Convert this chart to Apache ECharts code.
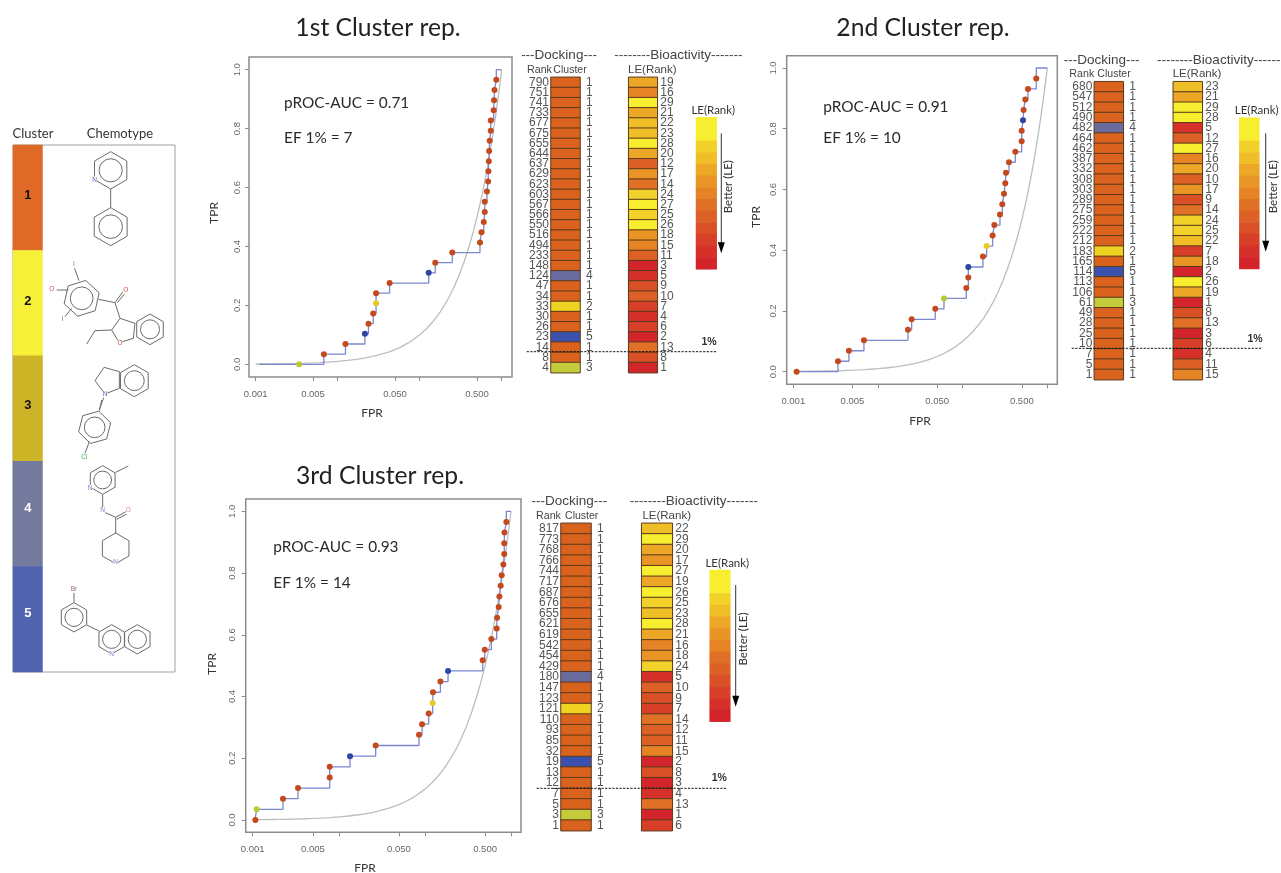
<!DOCTYPE html>
<html><head><meta charset="utf-8"><style>html,body{margin:0;padding:0;background:#fff}#c{width:1281px;height:873px}</style>
<script src="https://cdn.jsdelivr.net/npm/echarts@6/dist/echarts.min.js"></script></head><body><div id="c"></div>
<script>
// ---- data, tables listed top-down as printed; FPR listed from the lowest rank up ----
const rank1=[790,751,741,733,677,675,655,644,637,629,623,603,567,566,550,516,494,233,148,124,47,34,33,30,26,23,14,8,4];
const cluster1=[1,1,1,1,1,1,1,1,1,1,1,1,1,1,1,1,1,1,1,4,1,1,2,1,1,5,1,1,3];
const le1=[19,16,29,21,22,23,28,20,12,17,14,24,27,25,26,18,15,11,3,5,9,10,7,4,6,2,13,8,1];
const fpr1=[.00339,.00678,.01243,.02147,.02373,.02712,.02938,.02938,.04294,.1288,.1548,.2497,.5435,.5672,.6045,.6215,.6215,.661,.6825,.688,.696,.7028,.714,.7356,.7367,.7989,.8068,.817,.8599];
const rank2=[680,547,512,490,482,464,462,387,332,308,303,289,275,259,222,212,183,165,114,113,106,61,49,28,25,10,7,5,1];
const cluster2=[1,1,1,1,4,1,1,1,1,1,1,1,1,1,1,1,2,1,5,1,1,3,1,1,1,1,1,1,1];
const le2=[23,21,29,28,5,12,27,16,20,10,17,9,14,24,25,22,7,18,2,26,19,1,8,13,3,6,4,11,15];
const fpr2=[.001095,.00337,.00454,.00683,.0226,.025,.0475,.0602,.1105,.1167,.1167,.1738,.192,.226,.2366,.276,.294,.308,.319,.325,.3526,.419,.498,.498,.516,.525,.55,.591,.741];
const rank3=[817,773,768,766,744,717,687,676,655,621,619,542,454,429,180,147,123,121,110,93,85,32,19,13,12,7,5,3,1];
const cluster3=[1,1,1,1,1,1,1,1,1,1,1,1,1,1,4,1,1,2,1,1,1,1,5,1,1,1,1,3,1];
const le3=[22,29,20,17,27,19,26,25,23,28,21,16,18,24,5,10,9,7,14,12,11,15,2,8,3,4,13,1,6];
const fpr3=[.001074,.001113,.00225,.00336,.00784,.00784,.0135,.0268,.0855,.0927,.1107,.123,.1242,.1514,.1857,.469,.4955,.5916,.682,.689,.72,.733,.759,.78,.815,.835,.835,.84,.883];
const startFpr=[.00111,null,.00106];
const diagonal=[.001,.0013,.0017,.002,.0025,.003,.004,.005,.006,.007,.008,.01,.013,.017,.02,.025,.03,.04,.05,.06,.07,.08,.1,.12,.14,.16,.18,.2,.23,.26,.3,.35,.4,.45,.5,.55,.6,.65,.7,.75,.8,.85,.9,.95,1];
const xTicks=[.001,.005,.01,.05,.1,.5,1];
const xLabels=[.001,.005,.05,.5];
const yTicks=[0,.2,.4,.6,.8,1];
const cellColor={1:'#d9621f',2:'#eed320',3:'#c5cc3c',4:'#6a6b9f',5:'#3a52ad'};
const dotColor={1:'#c4491d',2:'#e6cc20',3:'#b9c932',4:'#2f45a6',5:'#2f45a6'};
const leBands=['#f6ee2f','#f6ee2f','#f2d22a','#f0bf28','#eca726','#e89525','#e58325','#e07025','#dd6026','#d95027','#d73f28','#d5302a','#d2242a'];
const sideClusters=['1','2','3','4','5'];
const sideColors=['#df6a28','#f7f038','#ccb426','#747a9e','#4f63ae'];
const sideLabelColors=['#111','#111','#111','#fff','#fff'];
const sideLabelShift=[-2,-2,-3.5,-5.5,-6.3];
const titles=['1st Cluster rep.','2nd Cluster rep.','3rd Cluster rep.'];
const aucTexts=['pROC-AUC = 0.71','pROC-AUC = 0.91','pROC-AUC = 0.93'];
const efTexts=['EF 1% = 7','EF 1% = 10','EF 1% = 14'];

// ---- layout ----
const L='"Liberation Sans",Arial,sans-serif', H='Lato,"Open Sans",sans-serif';
const panels=[
 {box:[249,57,512,377],t001:255.7,t1:501.7,y0:364.3,y1:69.7,fprY:413,fprX:372,tprX:214,tprY:213,lab:12,xm:16,
  title:[378,28],auc:[284,102.7],ef:[284,138.3],fpr:fpr1,rank:rank1,cluster:cluster1,le:le1,
  dock:[551,77.3,29,295.4],leCol:[628.7,77.3,28.6,295.4],head:[559,55.7,678.3,70],rankX:[527,551,570],leHX:652.3,
  bioText:'--------Bioactivity-------',leg:[696,117.3,20.7,152],legT:[713.3,110.7],arrow:[721.3,133.3,253.3],better:[728.3,186.7],dash:[526.7,716.7,351.7],pct:[709,342]},
 {box:[786.7,55.7,1057.3,384.3],t001:793.3,t1:1047.3,y0:371.7,y1:68,fprY:421,fprX:920,tprX:756,tprY:217,lab:13.7,xm:16,
  title:[923,28],auc:[823.3,106.7],ef:[823.3,137.7],fpr:fpr2,rank:rank2,cluster:cluster2,le:le2,
  dock:[1094.3,81.7,29,298],leCol:[1173.3,81.7,29,298],head:[1101.7,60.7,1221,74.3],rankX:[1069.3,1096,1114],leHX:1197,
  bioText:'--------Bioactivity-------',leg:[1239.3,117.7,20,151.3],legT:[1256.7,110.7],arrow:[1265.7,133.3,251.7],better:[1273,186.7],dash:[1071.7,1261.7,348.3],pct:[1255,339]},
 {box:[245.7,499,521,832.3],t001:252.7,t1:511,y0:820,y1:511.3,fprY:868,fprX:365,tprX:212,tprY:664,lab:13.4,xm:16,
  title:[380,476],auc:[273.3,547.3],ef:[273.3,583.3],fpr:fpr3,rank:rank3,cluster:cluster3,le:le3,
  dock:[561,523.3,30,307.4],leCol:[641.7,523.3,30.6,307.4],head:[569.3,501,693.8,515.7],rankX:[536,564.5,581.7],leHX:666.7,
  bioText:'--------Bioactivity-------',leg:[709.7,570,20.6,151.7],legT:[727.3,563.3],arrow:[735.7,585,706.7],better:[743.3,639],dash:[536.7,726.7,788.3],pct:[719.3,778.3]}
];
const grids=[],xAxes=[],yAxes=[],series=[],graphic=[];
const lg=v=>Math.log10(v);
function txt(x,y,s,size,o){o=o||{};graphic.push({type:'text',x,y,rotation:o.rot||0,silent:true,z:50,style:{text:s,fontSize:size,fontFamily:o.f||L,fontWeight:o.w||'normal',fill:o.c||'#444',align:o.a||'center',verticalAlign:'middle'}});}
function addGrid(l,t,w,h,show){grids.push({left:l,top:t,width:w,height:h,outerBoundsMode:'none',show:!!show,borderColor:'#8c8c8c',borderWidth:1.5});return grids.length-1;}
function hiddenX(g){xAxes.push({gridIndex:g,type:'category',data:['c'],show:false});return xAxes.length-1;}
function catY(g,labels,pos,margin,size){yAxes.push({gridIndex:g,type:'category',data:labels.map(String),inverse:true,position:pos,axisLine:{show:false},axisTick:{show:false},splitLine:{show:false},
  axisLabel:{show:!!size,interval:0,margin:margin,fontSize:size||1,fontFamily:L,color:'#555',hideOverlap:false}});return yAxes.length-1;}
function cellSeries(xi,yi,colors,border){series.push({type:'heatmap',coordinateSystem:'cartesian2d',xAxisIndex:xi,yAxisIndex:yi,silent:true,
  data:colors.map((c,i)=>({value:[0,i,1],itemStyle:{color:c,borderColor:border||c,borderWidth:border?1:0}}))});}
const leColor=r=>leBands[12-Math.floor((r-1)*13/29)];

panels.forEach((p,pi)=>{
 const [bl,bt,br,bb]=p.box;
 const dec=(p.t1-p.t001)/3, ys=p.y0-p.y1;
 const g=addGrid(bl,bt,br-bl,bb-bt,true);
 xAxes.push({gridIndex:g,type:'value',min:-3-(p.t001-bl)/dec,max:(br-p.t1)/dec,splitLine:{show:false},axisLine:{show:false,onZero:false},
   axisTick:{show:true,length:4,lineStyle:{color:'#8c8c8c'},customValues:xTicks.map(lg)},
   axisLabel:{customValues:xLabels.map(lg),margin:p.xm-4,fontSize:9.5,fontFamily:L,color:'#666',formatter:v=>Math.pow(10,v).toFixed(3)}});
 const xi=xAxes.length-1;
 yAxes.push({gridIndex:g,type:'value',min:-(bb-p.y0)/ys,max:1+(p.y1-bt)/ys,splitLine:{show:false},axisLine:{show:false,onZero:false},
   axisTick:{show:true,length:4,lineStyle:{color:'#8c8c8c'},customValues:yTicks},
   axisLabel:{customValues:yTicks,rotate:90,margin:p.lab-5,fontSize:9.5,fontFamily:L,color:'#666',formatter:v=>v.toFixed(1)}});
 const yi=yAxes.length-1;
 const n=p.fpr.length;
 const pts=p.fpr.map((f,i)=>[lg(f),i/n]);
 const clustersUp=p.cluster.slice().reverse();
 series.push({type:'line',xAxisIndex:xi,yAxisIndex:yi,silent:true,showSymbol:false,symbol:'none',z:2,data:diagonal.map(v=>[lg(v),v]),lineStyle:{color:'#bdbdbd',width:1.3}});
 const lead=startFpr[pi]?[[lg(startFpr[pi]),0]]:[];
 series.push({type:'line',step:'end',xAxisIndex:xi,yAxisIndex:yi,silent:true,showSymbol:false,symbol:'none',z:3,
   data:lead.concat(pts,[[pts[n-1][0],1],[0,1]]),lineStyle:{color:'#7c88cf',width:1.3}});
 series.push({type:'scatter',xAxisIndex:xi,yAxisIndex:yi,silent:true,symbolSize:6,z:4,
   data:pts.map((q,i)=>({value:q,itemStyle:{color:dotColor[clustersUp[i]],opacity:1}}))});
 // docking column
 const d=addGrid(...p.dock);
 const dx=hiddenX(d);
 const dy=catY(d,p.rank,'left',2,12);
 catY(d,p.cluster,'right',6,12);
 cellSeries(dx,dy,p.cluster.map(c=>cellColor[c]),'#5b3a1c');
 // LE column
 const e=addGrid(...p.leCol);
 const ex=hiddenX(e);
 const ey=catY(e,p.le,'right',3,12);
 yAxes[ey].axisLabel.align='left';
 cellSeries(ex,ey,p.le.map(leColor),'#5b3a1c');
 // LE colour key
 const k=addGrid(...p.leg);
 const kx=hiddenX(k);
 const ky=catY(k,leBands,'left',0,0);
 yAxes[ky].axisLabel.show=false;
 cellSeries(kx,ky,leBands,null);
 // text
 txt(p.title[0],p.title[1],titles[pi],24.7,{f:H,c:'#222'});
 txt(p.auc[0],p.auc[1],aucTexts[pi],15.4,{f:H,c:'#2a2a2a',a:'left'});
 txt(p.ef[0],p.ef[1],efTexts[pi],15.4,{f:H,c:'#2a2a2a',a:'left'});
 txt(p.fprX,p.fprY,'FPR',12,{f:H,c:'#333'});
 txt(p.tprX,p.tprY,'TPR',12,{f:H,c:'#333',rot:Math.PI/2});
 txt(p.head[0],p.head[1],'---Docking---',13.5);
 txt(p.head[2],p.head[1],p.bioText,13.5);
 const hy=p.head[3];
 txt(p.rankX[0],hy,'Rank',10.7,{a:'left'});
 txt(p.rankX[2],hy,'Cluster',10.5);
 txt(p.leHX,hy,'LE(Rank)',11.5);
 txt(p.legT[0],p.legT[1],'LE(Rank)',11.5,{f:H,c:'#333'});
 txt(p.better[0],p.better[1],'Better (LE)',11.5,{f:H,c:'#333',rot:Math.PI/2});
 txt(p.pct[0],p.pct[1],'1%',10.5,{w:'bold',c:'#333'});
 const [ax,a0,a1]=p.arrow;
 graphic.push({type:'line',silent:true,z:40,shape:{x1:ax,y1:a0,x2:ax,y2:a1-8},style:{stroke:'#333',lineWidth:1}});
 graphic.push({type:'polygon',silent:true,z:40,shape:{points:[[ax-3.5,a1-11],[ax+3.5,a1-11],[ax,a1]]},style:{fill:'#000'}});
 graphic.push({type:'line',silent:true,z:41,shape:{x1:p.dash[0],y1:p.dash[2],x2:p.dash[1],y2:p.dash[2]},style:{stroke:'#111',lineWidth:1,lineDash:[2.2,1.4]}});
});

// ---- left key ----
addGrid(13,145,162,527,true);
grids[grids.length-1].borderColor='#a0a0a0';grids[grids.length-1].borderWidth=1;
xAxes.push({gridIndex:grids.length-1,type:'value',show:false});
yAxes.push({gridIndex:grids.length-1,type:'value',show:false});
const sg=addGrid(13,145,29.5,527);
const sx=hiddenX(sg), sy=catY(sg,sideClusters,'left',0,0);
yAxes[sy].axisLabel.show=false;
series.push({type:'heatmap',coordinateSystem:'cartesian2d',xAxisIndex:sx,yAxisIndex:sy,silent:true,
  data:sideColors.map((c,i)=>({value:[0,i,1],itemStyle:{color:c},label:{show:true,offset:[0,sideLabelShift[i]],formatter:sideClusters[i],fontSize:13,fontWeight:'bold',fontFamily:L,color:sideLabelColors[i]}}))});
txt(33,134,'Cluster',13,{f:H,c:'#333'});
txt(120,134,'Chemotype',13,{f:H,c:'#333'});

// ---- chemotype sketches (zoom coordinates /3) ----
const STK='#6b6b6b';
function P(x,y,oy){return [x/3,y/3+oy];}
function bond(a,b,oy){graphic.push({type:'line',silent:true,shape:{x1:a[0]/3,y1:a[1]/3+oy,x2:b[0]/3,y2:b[1]/3+oy},style:{stroke:STK,lineWidth:1}});}
function ring(cx,cy,r,oy,rot,inner,n){n=n||6;rot=rot||0;const pts=[];for(let i=0;i<n;i++){const a=-Math.PI/2+rot+i*2*Math.PI/n;pts.push([(cx+r*Math.cos(a))/3,(cy+r*Math.sin(a))/3+oy]);}
 graphic.push({type:'polygon',silent:true,shape:{points:pts},style:{fill:'none',stroke:STK,lineWidth:1}});
 if(inner!==false)graphic.push({type:'circle',silent:true,shape:{cx:cx/3,cy:cy/3+oy,r:r*0.62/3},style:{fill:'none',stroke:STK,lineWidth:1}});}
function poly(pts,oy){graphic.push({type:'polygon',silent:true,shape:{points:pts.map(q=>P(q[0],q[1],oy))},style:{fill:'none',stroke:STK,lineWidth:1}});}
function atom(x,y,s,c,oy){txt(x/3,y/3+oy,s,6.5,{c:c});graphic[graphic.length-1].style.backgroundColor='#fff';}
const o1=120,o2=400;
ring(332,151,56,o1);ring(332,320,57,o1);bond([332,207],[332,263],o1);atom(284,180,'N','#5560b0',o1);
ring(245,535,55,o1,0.22);bond([237,482],[222,440],o1);bond([170,510],[205,510],o1);bond([195,590],[215,565],o1);
atom(222,434,'I','#7a70b0',o1);atom(155,507,'O','#d0504c',o1);atom(187,597,'I','#7a70b0',o1);
bond([296,538],[345,548],o1);bond([345,548],[368,516],o1);bond([352,548],[375,520],o1);atom(377,511,'O','#d0504c',o1);
bond([345,548],[360,595],o1);poly([[360,595],[335,630],[358,668],[400,655],[405,610]],o1);ring(450,628,46,o1);
bond([335,630],[285,632],o1);bond([285,632],[260,672],o1);atom(360,671,'O','#d0504c',o1);
poly([[312,742],[285,782],[315,822],[358,805],[358,755]],o1);ring(403,782,48,o1);atom(315,822,'N','#5560b0',o1);bond([312,830],[298,870],o1);
bond([305,0],[298,32],o2);ring(284,82,50,o2,0.25);bond([268,125],[255,160],o2);atom(253,173,'Cl','#45b050',o2);
ring(308,240,43,o2,0,true);bond([347,217],[385,198],o2);atom(270,265,'N','#7a80c8',o2);
bond([308,283],[308,325],o2);atom(308,332,'N','#7a80c8',o2);bond([316,338],[347,352],o2);bond([347,352],[378,335],o2);bond([350,358],[380,342],o2);atom(385,332,'O','#d08080',o2);
bond([347,352],[347,400],o2);ring(347,445,46,o2,0,false);atom(347,488,'N','#7a80c8',o2);
atom(222,567,'Br','#a07070',o2);bond([222,578],[222,608],o2);ring(222,652,44,o2);bond([260,675],[297,693],o2);
ring(335,718,44,o2);ring(412,718,44,o2);atom(335,763,'N','#7a80c8',o2);

const chart=echarts.init(document.getElementById('c'),null,{renderer:'canvas'});
chart.setOption({backgroundColor:'#fff',animation:false,grid:grids,xAxis:xAxes,yAxis:yAxes,series,graphic:{elements:graphic}});
</script></body></html>
